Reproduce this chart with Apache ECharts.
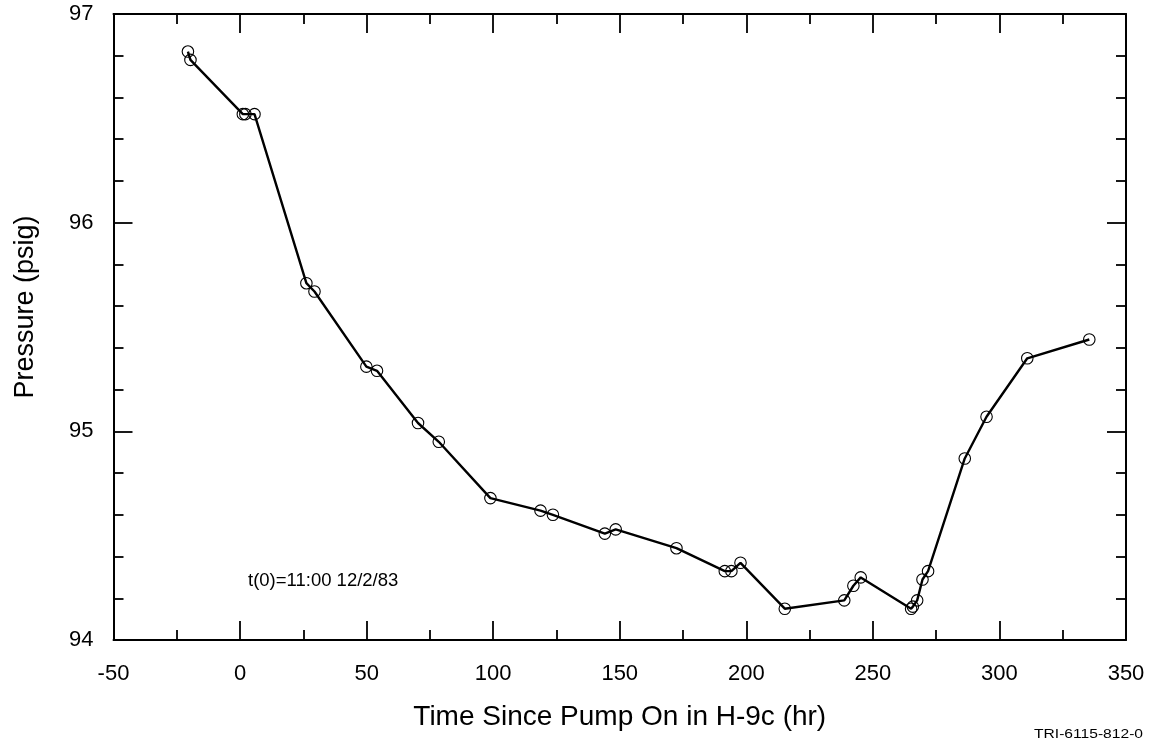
<!DOCTYPE html>
<html>
<head>
<meta charset="utf-8">
<script src="https://cdn.jsdelivr.net/npm/echarts@6/dist/echarts.min.js"></script>
<style>
  html, body { margin: 0; padding: 0; background: #fff; }
  #chart { width: 1156px; height: 744px; }
</style>
</head>
<body>
<div id="chart"></div>
<script>
// Data
const timeHr = [-20.6, -19.6, 1.1, 2.1, 5.7, 26.2, 29.4, 49.9, 54.1, 70.3, 78.5, 98.9,
  118.7, 123.6, 144.1, 148.4, 172.4, 191.5, 194.1, 197.7, 215.2, 238.7, 242.3, 245.2,
  265.1, 265.8, 267.5, 269.6, 271.8, 286.3, 294.9, 311.0, 335.5];
const pressurePsig = [96.82, 96.78, 96.52, 96.52, 96.52, 95.71, 95.67, 95.31, 95.29, 95.04, 94.95, 94.68,
  94.62, 94.60, 94.51, 94.53, 94.44, 94.33, 94.33, 94.37, 94.15, 94.19, 94.26, 94.30,
  94.15, 94.16, 94.19, 94.29, 94.33, 94.87, 95.07, 95.35, 95.44];
const xTicks = { min: -50, max: 350, interval: 50 };
const yTicks = { min: 94, max: 97, interval: 1 };
const xTitle = 'Time Since Pump On in H-9c (hr)';
const yTitle = 'Pressure (psig)';
const noteText = 't(0)=11:00 12/2/83';
const idText = 'TRI-6115-812-0';

const points = timeHr.map((t, i) => [t, pressurePsig[i]]);
const FONT = '"Liberation Sans", Arial, Helvetica, sans-serif';

function xAxisCfg(pos, labels) {
  return {
    type: 'value', position: pos,
    min: xTicks.min, max: xTicks.max, interval: xTicks.interval,
    axisLine: { show: true, onZero: false, lineStyle: { color: '#000', width: 2 } },
    axisTick: { show: true, inside: true, length: 19, lineStyle: { color: '#000', width: 1.8 } },
    minorTick: { show: true, splitNumber: 2, length: 10, lineStyle: { color: '#000', width: 1.8 } },
    splitLine: { show: false },
    axisLabel: { show: labels, margin: 23, color: '#000', fontSize: 22, fontFamily: FONT },
    name: labels ? xTitle : '',
    nameLocation: 'middle', nameGap: 63,
    nameTextStyle: { color: '#000', fontSize: 28, fontFamily: FONT }
  };
}
function yAxisCfg(pos, labels) {
  return {
    type: 'value', position: pos,
    min: yTicks.min, max: yTicks.max, interval: yTicks.interval,
    axisLine: { show: true, onZero: false, lineStyle: { color: '#000', width: 2 } },
    axisTick: { show: true, inside: true, length: 19, lineStyle: { color: '#000', width: 1.8 } },
    minorTick: { show: true, splitNumber: 5, length: 10, lineStyle: { color: '#000', width: 1.8 } },
    splitLine: { show: false },
    axisLabel: { show: labels, margin: 20, color: '#000', fontSize: 22, fontFamily: FONT }
  };
}

const chart = echarts.init(document.getElementById('chart'), null, { renderer: 'canvas' });
chart.setOption({
  animation: false,
  backgroundColor: '#fff',
  grid: { left: 113.5, right: 30, top: 14, bottom: 104, containLabel: false },
  xAxis: [xAxisCfg('bottom', true), xAxisCfg('top', false)],
  yAxis: [yAxisCfg('left', true), yAxisCfg('right', false)],
  series: [{
    type: 'line',
    xAxisIndex: 0, yAxisIndex: 0,
    data: points,
    symbol: 'circle', symbolSize: 11.5,
    showAllSymbol: true,
    lineStyle: { color: '#000', width: 2.4 },
    itemStyle: { color: 'rgba(0,0,0,0)', borderColor: '#000', borderWidth: 1.1 },
    z: 3
  }],
  graphic: [
    { type: 'text', x: 26, y: 307, rotation: Math.PI / 2,
      style: { text: yTitle, fill: '#000', font: '27px ' + FONT, align: 'center', verticalAlign: 'middle' } },
    { type: 'text', x: 248, y: 581,
      style: { text: noteText, fill: '#000', font: '18.5px ' + FONT, align: 'left', verticalAlign: 'middle' } },
    { type: 'text', x: 1143, y: 734, scaleX: 1.2,
      style: { text: idText, fill: '#000', font: '13px ' + FONT, align: 'right', verticalAlign: 'middle' } }
  ]
});
</script>
</body>
</html>
